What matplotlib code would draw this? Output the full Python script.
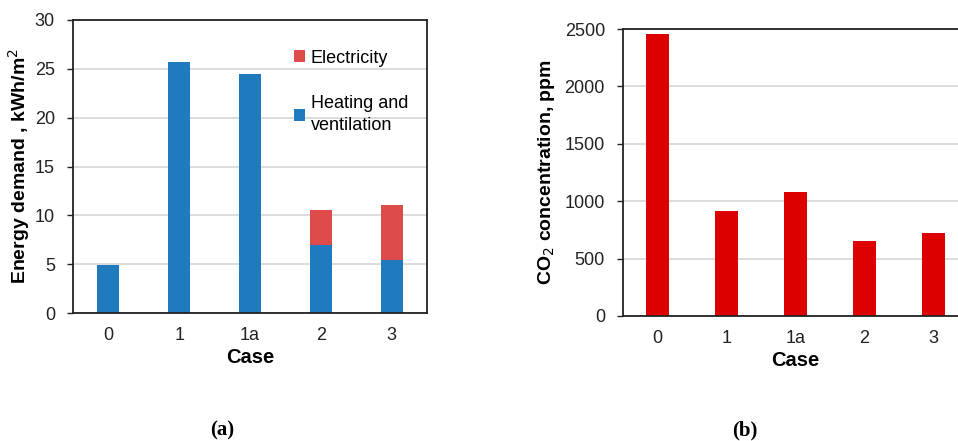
import numpy as np
from matplotlib import pyplot as plt

plt.rcParams['font.family'] = ['Liberation Sans', 'DejaVu Sans']

cases = ['0', '1', '1a', '2', '3']
heating = [4.9, 25.7, 24.5, 7.0, 5.4]
electricity = [0.0, 0.0, 0.0, 3.55, 5.7]
co2 = [2460, 915, 1080, 655, 725]

blue = '#1f7bbd'
red_el = '#dd4b4b'
red_co2 = '#dd0000'
grid_c = '#d9d9d9'

fig = plt.figure(figsize=(9.58, 4.41), dpi=100)
W, H = 958.0, 441.0

x = np.arange(len(cases))


def style(ax):
	ax.set_axisbelow(True)
	ax.yaxis.grid(True, color=grid_c, linewidth=1.3)
	ax.set_xlim(-0.5, len(cases) - 0.5)
	ax.set_xticks(x)
	ax.set_xticklabels(cases)
	ax.tick_params(axis='x', length=0, labelsize=13, pad=10, colors='#222222')
	ax.tick_params(axis='y', length=4, width=1, labelsize=13, pad=9, colors='#222222')
	for s in ax.spines.values():
		s.set_linewidth(1.3)
		s.set_color('#222222')
	ax.set_xlabel('Case', fontsize=14.5, fontweight='bold', labelpad=3)


# (a)
ax1 = fig.add_axes([73/W, 1 - 313/H, 354/W, 293/H])
hb = ax1.bar(x, heating, width=0.31, color=blue)
eb = ax1.bar(x, electricity, width=0.31, bottom=heating, color=red_el)
ax1.set_ylim(0, 30)
ax1.set_yticks(np.arange(0, 31, 5))
style(ax1)
ax1.set_ylabel('Energy demand , kWh/m$^2$', fontsize=14, fontweight='bold')
ax1.yaxis.set_label_coords(-0.115, 0.5)
leg = ax1.legend([eb, hb], ['Electricity', 'Heating and\nventilation'], frameon=False,
	loc='upper left', bbox_to_anchor=(0.6, 0.93), fontsize=13,
	handlelength=0.6, handleheight=0.6, handletextpad=0.3, labelspacing=1.6,
	borderpad=0)
for t in leg.get_texts():
	t.set_linespacing(1.35)

# (b)
ax2 = fig.add_axes([623/W, 1 - 316/H, 345/W, 287/H])
ax2.bar(x, co2, width=0.33, color=red_co2)
ax2.set_ylim(0, 2500)
ax2.set_yticks(np.arange(0, 2501, 500))
style(ax2)
ax2.spines['right'].set_visible(False)
ax2.set_ylabel('CO$_2$ concentration, ppm', fontsize=14, fontweight='bold')
ax2.yaxis.set_label_coords(-0.19, 0.5)

for px, lab in [(222, '(a)'), (745, '(b)')]:
	fig.text(px/W, 1 - 430/H, lab, ha='center', va='center', fontsize=15,
		family=['Liberation Serif', 'DejaVu Serif'], fontweight='bold')

fig.savefig('out.png', dpi=100)
